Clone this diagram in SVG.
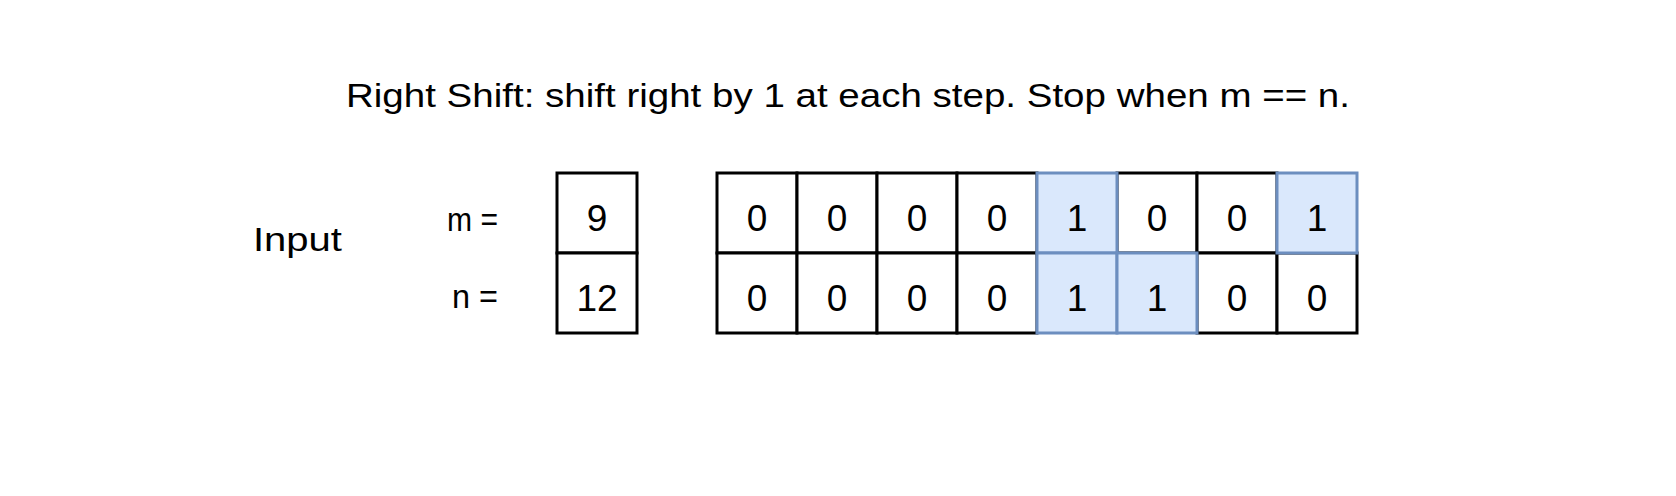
<svg xmlns="http://www.w3.org/2000/svg" width="1676" height="496" viewBox="0 0 1676 496">
<style>
text{font-family:"Comic Sans MS","Liberation Sans","DejaVu Sans",sans-serif;fill:#000}
.t{font-size:33px}
.d{font-size:37px;text-anchor:middle}
.c{fill:#fff;stroke:#000;stroke-width:3}
.b{fill:#dae8fc;stroke:#6c8ebf;stroke-width:3}
</style>
<rect width="1676" height="496" fill="#fff"/>
<g id="title"><text class="t" x="346" y="107" textLength="1004" lengthAdjust="spacingAndGlyphs">Right Shift: shift right by 1 at each step. Stop when m == n.</text></g>
<g id="labels">
<text class="t" x="253" y="251" textLength="89" lengthAdjust="spacingAndGlyphs">Input</text>
<text class="t" x="447" y="231" textLength="51" lengthAdjust="spacingAndGlyphs">m =</text>
<text class="t" x="452" y="308" textLength="46" lengthAdjust="spacingAndGlyphs">n =</text>
</g>
<g id="m-dec"><rect class="c" x="557" y="173" width="80" height="80"/><text class="d" x="597" y="231">9</text></g>
<g id="n-dec"><rect class="c" x="557" y="253" width="80" height="80"/><text class="d" x="597" y="311">12</text></g>
<g id="m-bits">
<rect class="c" x="717" y="173" width="80" height="80"/><text class="d" x="757" y="231">0</text>
<rect class="c" x="797" y="173" width="80" height="80"/><text class="d" x="837" y="231">0</text>
<rect class="c" x="877" y="173" width="80" height="80"/><text class="d" x="917" y="231">0</text>
<rect class="c" x="957" y="173" width="80" height="80"/><text class="d" x="997" y="231">0</text>
<rect class="c" x="1117" y="173" width="80" height="80"/><text class="d" x="1157" y="231">0</text>
<rect class="c" x="1197" y="173" width="80" height="80"/><text class="d" x="1237" y="231">0</text>
</g>
<g id="n-bits">
<rect class="c" x="717" y="253" width="80" height="80"/><text class="d" x="757" y="311">0</text>
<rect class="c" x="797" y="253" width="80" height="80"/><text class="d" x="837" y="311">0</text>
<rect class="c" x="877" y="253" width="80" height="80"/><text class="d" x="917" y="311">0</text>
<rect class="c" x="957" y="253" width="80" height="80"/><text class="d" x="997" y="311">0</text>
<rect class="c" x="1197" y="253" width="80" height="80"/><text class="d" x="1237" y="311">0</text>
<rect class="c" x="1277" y="253" width="80" height="80"/><text class="d" x="1317" y="311">0</text>
</g>
<g id="highlight">
<rect class="b" x="1037" y="173" width="80" height="80"/><text class="d" x="1077" y="231">1</text>
<rect class="b" x="1277" y="173" width="80" height="80"/><text class="d" x="1317" y="231">1</text>
<rect class="b" x="1037" y="253" width="80" height="80"/><text class="d" x="1077" y="311">1</text>
<rect class="b" x="1117" y="253" width="80" height="80"/><text class="d" x="1157" y="311">1</text>
</g>
<g id="connectors"/>
</svg>
